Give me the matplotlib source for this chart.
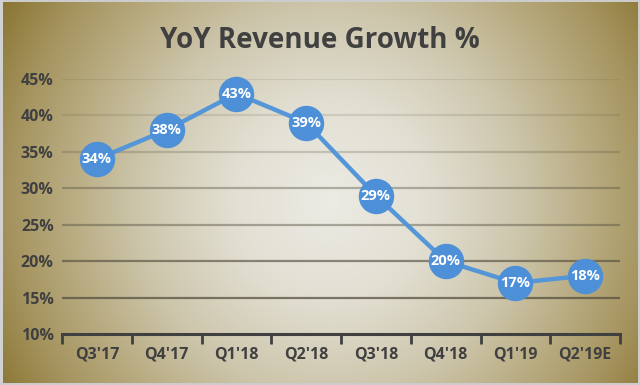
import numpy as np
import matplotlib
matplotlib.use("Agg")
import matplotlib.pyplot as plt
from matplotlib.ticker import FixedLocator

categories = ["Q3'17", "Q4'17", "Q1'18", "Q2'18", "Q3'18", "Q4'18", "Q1'19", "Q2'19E"]
growth = [34, 38, 43, 39, 29, 20, 17, 18]
y_ticks = [10, 15, 20, 25, 30, 35, 40, 45]
title = "YoY Revenue Growth %"

W, H = 640, 385
fig = plt.figure(figsize=(W / 100, H / 100), dpi=100)

# radial gradient background (circular in pixels)
bg = fig.add_axes([0, 0, 1, 1], zorder=0)
yy, xx = np.mgrid[0:H, 0:W]
d = np.sqrt((xx - 330) ** 2 + (yy - 200) ** 2)
stops_d = np.array([0, 100, 192, 260, 320, 380])
stops_c = np.array([
    [236, 235, 228],
    [226, 223, 210],
    [205, 198, 172],
    [185, 172, 130],
    [165, 148, 95],
    [138, 118, 52],
]) / 255.0
img = np.zeros((H, W, 3))
for k in range(3):
    img[..., k] = np.interp(d, stops_d, stops_c[:, k])
# light frame
img[0:2, :, :] = 0.80
img[:, 0:3, :] = 0.82
img[-2:, :, :] = 0.80
img[:, -2:, :] = 0.80
bg.imshow(img, extent=[0, 1, 0, 1], aspect="auto", origin="upper")
bg.axis("off")

ax = fig.add_axes([62 / W, 1 - 334 / H, (620 - 62) / W, (334 - 79) / H], zorder=1)
ax.patch.set_alpha(0)
x = np.arange(len(categories))
ax.plot(x, growth, color="#5596d8", lw=3.2, zorder=3, clip_on=False,
        marker="o", markersize=24.5, markerfacecolor="#4d90d8", markeredgecolor="#4d90d8")
for xi, v in zip(x, growth):
    ax.text(xi, v, f"{v}%", ha="center", va="center", color="white",
            fontsize=10.5, fontweight="bold", family="Open Sans", zorder=4)

ax.set_xlim(-0.5, len(categories) - 0.5)
ax.set_ylim(10, 45)
ax.set_yticks(y_ticks)
ax.set_yticklabels([f"{t}%" for t in y_ticks])
ax.set_xticks(x)
ax.set_xticklabels(categories)
ax.xaxis.set_minor_locator(FixedLocator(np.arange(-0.5, len(categories), 1.0)))
ax.tick_params(axis="x", which="major", length=0, pad=9)
ax.tick_params(axis="x", which="minor", length=7, width=2, color="#404040", direction="out")
ax.tick_params(axis="y", length=0, pad=6)
for lab in ax.get_xticklabels() + ax.get_yticklabels():
    lab.set_fontsize(11.5)
    lab.set_fontweight("bold")
    lab.set_color("#404040")
    lab.set_family("Open Sans")

for s in ["top", "right", "left"]:
    ax.spines[s].set_visible(False)
ax.spines["bottom"].set_color("#404040")
ax.spines["bottom"].set_linewidth(2.2)

# gridlines, darker towards bottom
grid_alpha = {15: 0.75, 20: 0.65, 25: 0.45, 30: 0.4, 35: 0.25, 40: 0.15, 45: 0.12}
for t in y_ticks[1:]:
    ax.axhline(t, color="#555040", lw=1.6, alpha=grid_alpha[t], zorder=1)

fig.text(0.5, 1 - 40 / H, title, ha="center", va="center", fontsize=20,
         fontweight="bold", color="#404040", family="Open Sans")

fig.savefig("out.png", dpi=100)
